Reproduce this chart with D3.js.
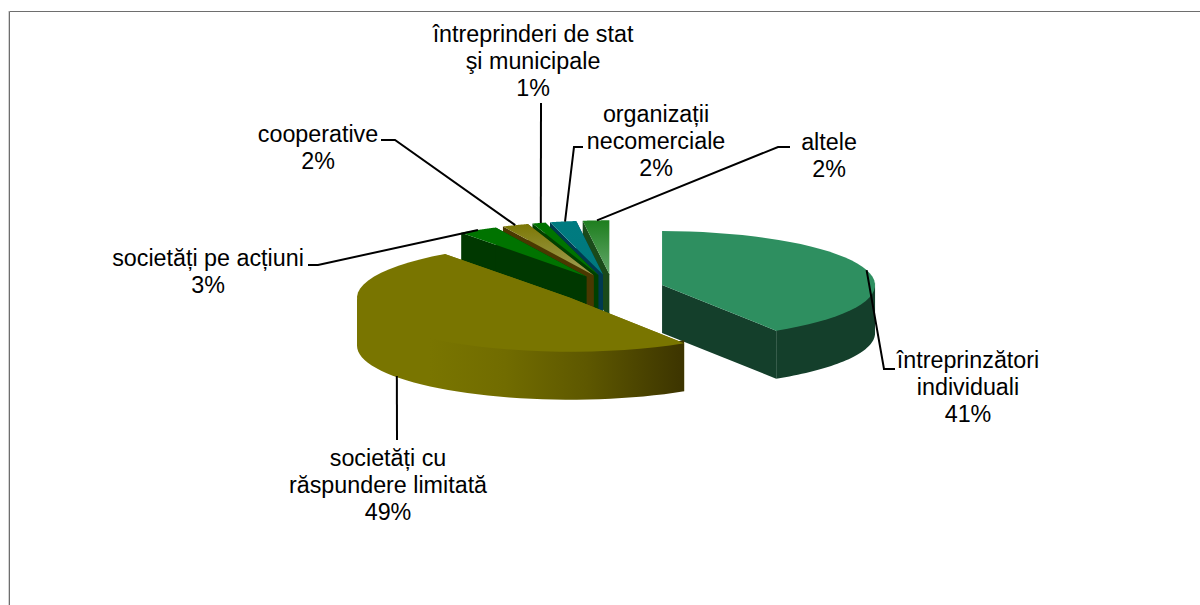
<!DOCTYPE html>
<html><head><meta charset="utf-8">
<style>html,body{margin:0;padding:0;background:#fff}svg{display:block}text{font-family:"Liberation Sans",Arial,sans-serif;font-size:23.3px;fill:#000;text-anchor:middle}</style>
<script src="https://cdn.jsdelivr.net/npm/d3@7"></script></head><body>
<script>
const categories = ["întreprinzători individuali","societăți cu răspundere limitată","societăți pe acțiuni","cooperative","întreprinderi de stat şi municipale","organizații necomerciale","altele"];
const values = [41,49,3,2,1,2,2];
const labelLines = [["întreprinzători","individuali","41%"],["societăți cu","răspundere limitată","49%"],["societăți pe acțiuni","3%"],["cooperative","2%"],["întreprinderi de stat","şi municipale","1%"],["organizații","necomerciale","2%"],["altele","2%"]];
const labelPos = [[968,368],[388,466],[208,266],[318,142],[533,42],[656,122],[829,150]];
const leaderShift = [0,3,0,0,2,2,1];
const leaderElbows = [[[884,369],[895,369]],[[397,440]],[[318,265],[308,265]],[[395,140],[381,140]],[[541,103]],[[574,147],[583,147]],[[778,147],[790,147]]];
const topColors = [["#2e8f60","#2e8f60"],["#797500","#797500"],["#007300","#007300"],["#7a7500","#a0a058"],["#007300","#007300"],["#007b80","#00797e"],["#1e7e1e","#64a86c"]];
const wallColors = ["#143f2b","#797500","#003800","#4a3800","#004000","#003a50","#1a4a1a"];
const W=1200,H=605,C0=[612.6,289.3],RX=213,RY=54,DEPTH=48,EX=51.5,EY=15;
const svg=d3.select("body").append("svg").attr("width",W).attr("height",H);
const defs=svg.append("defs");
svg.append("path").attr("d",`M8.5 ${H}V11`).attr("fill","none").attr("stroke","#d4d4d4");
svg.append("path").attr("d",`M9.5 ${H}V11.5H${W}`).attr("fill","none").attr("stroke","#6e6e6e");
const arcs=d3.pie().sort(null)(values);
const geom=arcs.map(a=>{const m=(a.startAngle+a.endAngle)/2;return{...a,mid:m,cx:C0[0]+EX*Math.sin(m),cy:C0[1]-EY*Math.cos(m)}});
const pt=(g,t,dz=0)=>[g.cx+RX*Math.sin(t),g.cy-RY*Math.cos(t)+dz];
const rimPts=(g,t0,t1,dz=0)=>d3.range(0,41).map(i=>pt(g,t0+(t1-t0)*i/40,dz));
const line=d3.line();
function draw(g,i){
 const s=g.startAngle,e=g.endAngle,c=[g.cx,g.cy],cb=[g.cx,g.cy+DEPTH];
 const grp=svg.append("g");
 const gid="w"+i;
 if(i===1){const lg=defs.append("linearGradient").attr("id",gid).attr("gradientUnits","userSpaceOnUse").attr("x1",358).attr("x2",684).attr("y1",0).attr("y2",0);
  [[0,"#797500"],[0.22,"#797500"],[0.45,"#716c00"],[0.7,"#5e5800"],[1,"#3c3400"]].forEach(d=>lg.append("stop").attr("offset",d[0]).attr("stop-color",d[1]));}
 const wall=i===1?`url(#${gid})`:wallColors[i];
 grp.append("path").attr("d",line([c,pt(g,s),pt(g,s,DEPTH),cb])+"Z").attr("fill",wallColors[i]);
 grp.append("path").attr("d",line([c,pt(g,e),pt(g,e,DEPTH),cb])+"Z").attr("fill",wallColors[i]);
 // outer wall: only the part of the rim that faces the viewer; tucked under the top so no seam shows
 const f0=Math.max(s,Math.PI/2),f1=Math.min(e,3*Math.PI/2);
 if(f1>f0){
  const a=rimPts(g,f0,f1,-3),b=rimPts(g,f0,f1,DEPTH).reverse();
  grp.append("path").attr("d",line(a.concat(b))+"Z").attr("fill",wall);
 }
 const tid="t"+i,tg=defs.append("linearGradient").attr("id",tid).attr("gradientUnits","userSpaceOnUse").attr("x1",0).attr("x2",0).attr("y1",g.cy-RY).attr("y2",g.cy);
 tg.append("stop").attr("offset",0).attr("stop-color",topColors[i][0]);tg.append("stop").attr("offset",1).attr("stop-color",topColors[i][1]);
 grp.append("path").attr("d",line([c].concat(rimPts(g,s,e)))+"Z").attr("fill",`url(#${tid})`);
}
[6,5,4,3,2,0,1].forEach(i=>draw(geom[i],i));
geom.forEach((g,i)=>{
 const p=i===1?pt(g,g.mid,DEPTH):pt(g,g.mid);
 const start=[p[0]+leaderShift[i],p[1]];
 svg.append("path").attr("d",line([start].concat(leaderElbows[i]))).attr("fill","none").attr("stroke","#000").attr("stroke-width",2);
 const t=svg.append("text").attr("transform",`translate(${labelPos[i][0]},${labelPos[i][1]})`);
 labelLines[i].forEach((l,j)=>t.append("tspan").attr("x",0).attr("y",j*27).text(l));
});
</script></body></html>
